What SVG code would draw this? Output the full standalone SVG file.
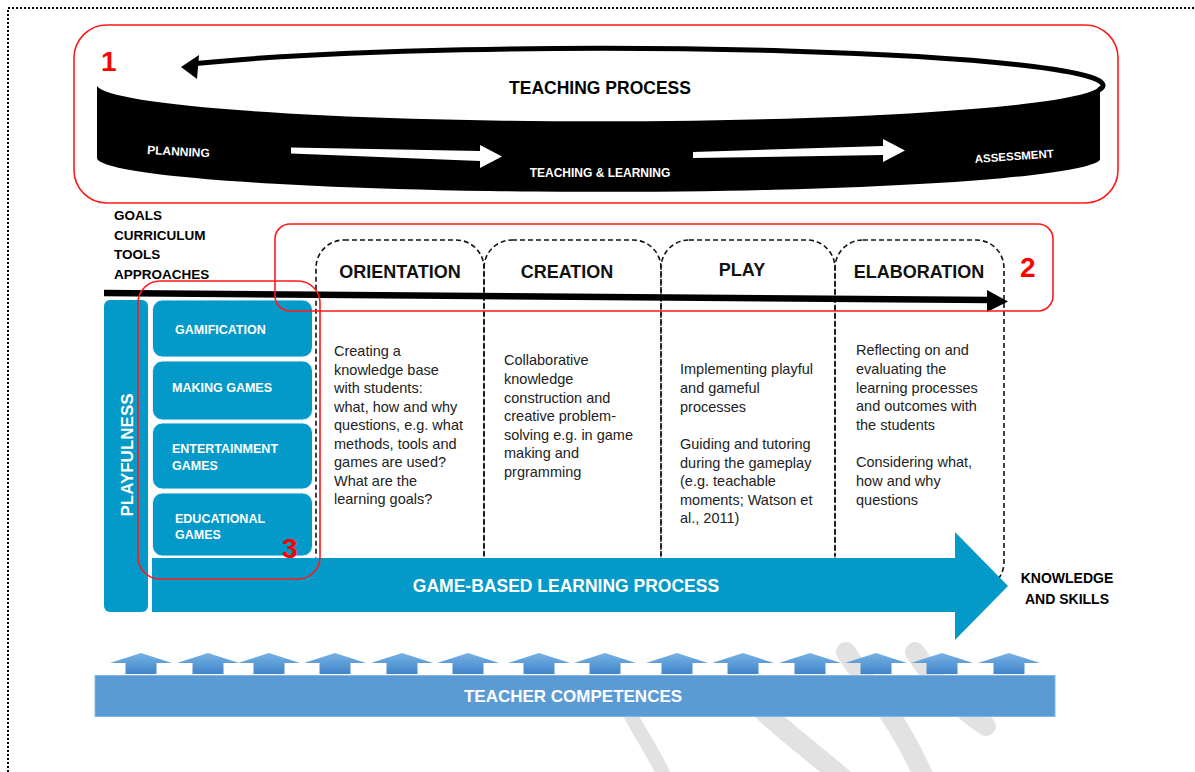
<svg xmlns="http://www.w3.org/2000/svg" width="1195" height="772" viewBox="0 0 1195 772">
<style>
  text { font-family: "Liberation Sans", Arial, sans-serif; }
  .b { font-weight: bold; }
  .red { fill: none; stroke: #ff1a1a; stroke-width: 1.6; }
  .num { fill: #ff0000; font-weight: bold; font-size: 28px; }
  .col { fill: none; stroke: #111; stroke-width: 1.6; stroke-dasharray: 5 3; }
  .head { font-weight: bold; font-size: 18px; fill: #111; text-anchor: middle; }
  .body { font-size: 14.5px; fill: #222; }
  .blue { fill: #0399c9; }
  .gl { fill: #fff; font-weight: bold; font-size: 12.5px; }
  .wm { fill: none; stroke: #e2e2e2; stroke-linecap: round; }
  .band { fill: #fff; font-weight: bold; }
</style>
<defs>
  <linearGradient id="ag" x1="0" y1="0" x2="0" y2="1">
    <stop offset="0" stop-color="#78b2e4"/>
    <stop offset="1" stop-color="#3f85c9"/>
  </linearGradient>
  <path id="up" d="M-31 663 L0 653 L31 663 L15.5 663 L15.5 674 L-15.5 674 L-15.5 663 Z" fill="url(#ag)"/>
</defs>

<rect x="0" y="0" width="1195" height="772" fill="#fff"/>

<!-- watermark -->
<g id="watermark">
  <path class="wm" stroke-width="14" d="M630 714 C642 737 656 756 666 780"/>
  <path class="wm" stroke-width="20" d="M760 708 C785 732 815 754 845 780"/>
  <path class="wm" stroke-width="20" d="M846 652 C870 690 900 720 925 780"/>
  <path class="wm" stroke-width="20" d="M915 652 C940 690 965 712 986 726"/>
</g>

<!-- dotted frame -->
<path d="M8 772 V8 H1195" fill="none" stroke="#000" stroke-width="2" stroke-dasharray="2 2"/>

<!-- Teaching process ring -->
<g id="teaching-process">
  <path d="M97 86 A502 37 0 0 0 1100 86 L1100 160 A502 34 0 0 1 97 158 Z" fill="#000"/>
  <path d="M196 63.5 A502 37 0 0 1 1099 90" fill="none" stroke="#000" stroke-width="5"/>
  <polygon points="181,67 199,55 197,79" fill="#000"/>
  <text x="600" y="94" class="b" font-size="17.5" text-anchor="middle" fill="#000">TEACHING PROCESS</text>
  <text x="147" y="154" class="band" font-size="12" transform="rotate(3 147 154)">PLANNING</text>
  <text x="600" y="177" class="band" font-size="12" text-anchor="middle">TEACHING &amp; LEARNING</text>
  <text x="975" y="163" class="band" font-size="11.5" transform="rotate(-4 975 163)">ASSESSMENT</text>
  <polygon points="291,147.5 480,151 480,145 502,156.5 480,168 480,161 291,153.5" fill="#fff"/>
  <polygon points="693,152 883,146 883,139 905,150.5 883,162 883,155 693,158" fill="#fff"/>
</g>

<!-- left labels -->
<g id="inputs">
  <text x="114" y="220" class="b" font-size="13.5" fill="#000">GOALS</text>
  <text x="114" y="240" class="b" font-size="13.5" fill="#000">CURRICULUM</text>
  <text x="114" y="259" class="b" font-size="13.5" fill="#000">TOOLS</text>
  <text x="114" y="279" class="b" font-size="13.5" fill="#000">APPROACHES</text>
</g>

<!-- phase columns -->
<g id="orientation">
  <rect class="col" x="316" y="240" width="168" height="345" rx="28"/>
  <text x="400" y="278" class="head">ORIENTATION</text>
  <text class="body">
    <tspan x="334" y="356">Creating a</tspan>
    <tspan x="334" y="374.5">knowledge base</tspan>
    <tspan x="334" y="393">with students:</tspan>
    <tspan x="334" y="411.5">what, how and why</tspan>
    <tspan x="334" y="430">questions, e.g. what</tspan>
    <tspan x="334" y="448.5">methods, tools and</tspan>
    <tspan x="334" y="467">games are used?</tspan>
    <tspan x="334" y="485.5">What are the</tspan>
    <tspan x="334" y="504">learning goals?</tspan>
  </text>
</g>
<g id="creation">
  <rect class="col" x="484" y="240" width="177" height="345" rx="28"/>
  <text x="567" y="278" class="head">CREATION</text>
  <text class="body">
    <tspan x="504" y="365">Collaborative</tspan>
    <tspan x="504" y="384">knowledge</tspan>
    <tspan x="504" y="402.5">construction and</tspan>
    <tspan x="504" y="421">creative problem-</tspan>
    <tspan x="504" y="439.5">solving e.g. in game</tspan>
    <tspan x="504" y="458">making and</tspan>
    <tspan x="504" y="477">prgramming</tspan>
  </text>
</g>
<g id="play">
  <rect class="col" x="661" y="240" width="174" height="345" rx="28"/>
  <text x="742" y="276" class="head">PLAY</text>
  <text class="body">
    <tspan x="680" y="374">Implementing playful</tspan>
    <tspan x="680" y="393">and gameful</tspan>
    <tspan x="680" y="411.5">processes</tspan>
    <tspan x="680" y="449">Guiding and tutoring</tspan>
    <tspan x="680" y="467.5">during the gameplay</tspan>
    <tspan x="680" y="486">(e.g. teachable</tspan>
    <tspan x="680" y="504.5">moments; Watson et</tspan>
    <tspan x="680" y="523">al., 2011)</tspan>
  </text>
</g>
<g id="elaboration">
  <rect class="col" x="835" y="240" width="169" height="350" rx="28"/>
  <text x="919" y="278" class="head">ELABORATION</text>
  <text class="body">
    <tspan x="856" y="355">Reflecting on and</tspan>
    <tspan x="856" y="374">evaluating the</tspan>
    <tspan x="856" y="392.5">learning processes</tspan>
    <tspan x="856" y="411">and outcomes with</tspan>
    <tspan x="856" y="430">the students</tspan>
    <tspan x="856" y="467">Considering what,</tspan>
    <tspan x="856" y="486">how and why</tspan>
    <tspan x="856" y="504.5">questions</tspan>
  </text>
</g>

<!-- connectors -->
<g id="connectors">
  <path d="M104 293 L990 300" stroke="#000" stroke-width="6.5" fill="none"/>
  <polygon points="987,290 1008,301.5 987,312" fill="#000"/>
</g>

<!-- playfulness & game types -->
<g id="playfulness">
  <rect class="blue" x="104" y="300" width="44" height="312" rx="6"/>
  <text x="0" y="0" class="b" font-size="17" fill="#fff" text-anchor="middle" transform="translate(133 455) rotate(-90)">PLAYFULNESS</text>
</g>
<g id="gamification">
  <rect class="blue" x="152.5" y="300" width="160" height="57" rx="10" stroke="#e6f3fa" stroke-width="1"/>
  <text x="175" y="334" class="gl">GAMIFICATION</text>
</g>
<g id="making-games">
  <rect class="blue" x="152.5" y="361" width="160" height="59" rx="10" stroke="#e6f3fa" stroke-width="1"/>
  <text x="172" y="392" class="gl">MAKING GAMES</text>
</g>
<g id="entertainment-games">
  <rect class="blue" x="152.5" y="423" width="160" height="66" rx="10" stroke="#e6f3fa" stroke-width="1"/>
  <text x="172" y="453" class="gl">ENTERTAINMENT</text>
  <text x="172" y="469.5" class="gl">GAMES</text>
</g>
<g id="educational-games">
  <rect class="blue" x="152.5" y="493" width="160" height="63" rx="10" stroke="#e6f3fa" stroke-width="1"/>
  <text x="175" y="522.5" class="gl">EDUCATIONAL</text>
  <text x="175" y="539" class="gl">GAMES</text>
</g>

<!-- game-based learning process arrow -->
<g id="gbl-process">
  <polygon class="blue" points="152,558 955,558 955,532 1008,586 955,640 955,612 152,612"/>
  <line x1="152" y1="557" x2="955" y2="557" stroke="#fff" stroke-width="1"/>
  <text x="566" y="592" class="b" font-size="17.5" fill="#fff" text-anchor="middle">GAME-BASED LEARNING PROCESS</text>
</g>
<g id="knowledge">
  <text x="1067" y="583" class="b" font-size="14" fill="#000" text-anchor="middle">KNOWLEDGE</text>
  <text x="1067" y="604" class="b" font-size="14" fill="#000" text-anchor="middle">AND SKILLS</text>
</g>

<!-- teacher competences -->
<g id="teacher-competences">
  <use href="#up" x="141"/><use href="#up" x="208"/><use href="#up" x="269"/><use href="#up" x="335"/>
  <use href="#up" x="402"/><use href="#up" x="468"/><use href="#up" x="539"/><use href="#up" x="605"/>
  <use href="#up" x="677"/><use href="#up" x="743"/><use href="#up" x="810"/><use href="#up" x="876"/>
  <use href="#up" x="942"/><use href="#up" x="1009"/>
  <rect x="95" y="675.5" width="960" height="41" fill="#5b9bd5" stroke="#85b5e2" stroke-width="1"/>
  <text x="573" y="702" class="b" font-size="17" fill="#fff" text-anchor="middle">TEACHER COMPETENCES</text>
</g>

<!-- red highlight boxes -->
<g id="highlight-1">
  <rect class="red" x="74" y="25" width="1044" height="178" rx="33"/>
  <text x="101" y="71" class="num">1</text>
</g>
<g id="highlight-2">
  <rect class="red" x="275" y="224" width="778" height="87" rx="15"/>
  <text x="1020" y="277" class="num">2</text>
</g>
<g id="highlight-3">
  <rect class="red" x="138" y="281" width="182" height="298" rx="22"/>
  <text x="282" y="558" class="num" font-size="27">3</text>
</g>
</svg>
